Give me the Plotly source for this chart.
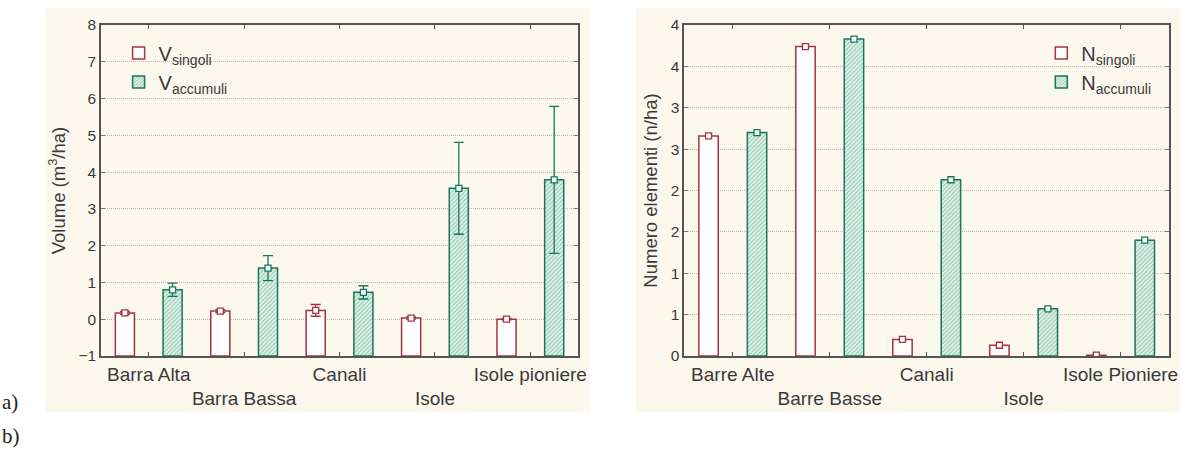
import plotly.graph_objects as go
import numpy as np

# left panel: volume
cat_a = ["Barra Alta", "Barra Bassa", "Canali", "Isole", "Isole pioniere"]
v_singoli = [0.17, 0.22, 0.24, 0.03, 0.0]
v_singoli_err = [0.04, 0.04, 0.16, 0.03, 0.02]
v_accumuli = [0.80, 1.39, 0.73, 3.56, 3.79]
v_accumuli_err = [0.18, 0.34, 0.18, 1.25, 2.0]

# right panel: numero elementi
cat_b = ["Barre Alte", "Barre Basse", "Canali", "Isole", "Isole Pioniere"]
n_singoli = [2.66, 3.74, 0.20, 0.13, 0.01]
n_accumuli = [2.70, 3.83, 2.13, 0.57, 1.40]
b_tickvals = [0, 0.5, 1, 1.5, 2, 2.5, 3, 3.5, 4]
b_ticktext = ["0", "1", "1", "2", "2", "3", "3", "4", "4"]

RED = "#A3343F"
GREEN = "#16775A"
CREAM = "#FDF8EE"
TXT = "#3A3A3A"
FONT = "Liberation Sans, Arial, sans-serif"

YMIN_A = -1
idx = np.arange(len(cat_a))
OFF = 0.25
W = 0.2

fig = go.Figure()

hatch = dict(shape="/", fgcolor="#4FA283", bgcolor="#E4F2EB", size=3, solidity=0.4)

def panel(xa, ya, s_vals, a_vals, s_err, a_err, base, leg, sname, aname):
    s_vals = np.array(s_vals)
    a_vals = np.array(a_vals)
    fig.add_trace(go.Bar(
        x=idx - OFF, y=s_vals - base, base=base, width=W,
        marker=dict(color="white", line=dict(color=RED, width=1.5)),
        name=sname, xaxis=xa, yaxis=ya, legend=leg))
    fig.add_trace(go.Bar(
        x=idx + OFF, y=a_vals - base, base=base, width=W,
        marker=dict(color="#E4F2EB", pattern=hatch, line=dict(color=GREEN, width=1.5)),
        name=aname, xaxis=xa, yaxis=ya, legend=leg))
    for xs, vals, err, col in [(idx - OFF, s_vals, s_err, RED), (idx + OFF, a_vals, a_err, GREEN)]:
        eb = dict(type="data", array=err, color=col, thickness=1.3, width=5) if err is not None else None
        fig.add_trace(go.Scatter(
            x=xs, y=vals, mode="markers", showlegend=False,
            marker=dict(symbol="square", size=6, color="white", line=dict(color=col, width=1.3)),
            error_y=eb, xaxis=xa, yaxis=ya))

panel("x", "y", v_singoli, v_accumuli, v_singoli_err, v_accumuli_err, YMIN_A, "legend",
      "V<sub>singoli</sub>", "V<sub>accumuli</sub>")
panel("x2", "y2", n_singoli, n_accumuli, None, None, 0, "legend2",
      "N<sub>singoli</sub>", "N<sub>accumuli</sub>")

def stagger(labels):
    return [t if i % 2 == 0 else "<br>" + t for i, t in enumerate(labels)]

xcommon = dict(range=[-0.5, 4.5], tickvals=list(idx), showline=True, linecolor="#555",
               linewidth=1.5, mirror="ticks", ticks="inside", ticklen=4, tickcolor="#555",
               showgrid=False, zeroline=False, tickangle=0, automargin=False,
               tickfont=dict(size=19, color=TXT, family=FONT))
ycommon = dict(showline=True, linecolor="#555", linewidth=1.5, mirror="ticks", ticks="inside",
               ticklen=4, tickcolor="#777", showgrid=True, gridcolor="#C4B6B8", griddash="1px,1px",
               gridwidth=1, zeroline=False, automargin=False,
               tickfont=dict(size=15.5, color=TXT, family=FONT),
               title_font=dict(size=18.5, color=TXT, family=FONT))

fig.update_layout(
    width=1186, height=454, margin=dict(l=0, r=0, t=0, b=0),
    paper_bgcolor="white", plot_bgcolor="white",
    font=dict(family=FONT, color=TXT),
    xaxis=dict(domain=[0.0852, 0.4874], ticktext=stagger(cat_a), **xcommon),
    yaxis=dict(domain=[0.2159, 0.9449], range=[-1, 8], dtick=1, anchor="x",
               title=dict(text="Volume (m<sup>3</sup>/ha)", standoff=8), **ycommon),
    xaxis2=dict(domain=[0.577, 0.9857], anchor="y2", ticktext=stagger(cat_b), **xcommon),
    yaxis2=dict(domain=[0.2159, 0.9449], range=[0, 4], tickvals=b_tickvals, ticktext=b_ticktext,
                anchor="x2", title=dict(text="Numero elementi (n/ha)", standoff=8), **ycommon),
    legend=dict(x=0.100, y=0.926, xanchor="left", yanchor="top", bgcolor="rgba(0,0,0,0)",
                font=dict(size=20, color=TXT, family=FONT), tracegroupgap=0),
    legend2=dict(x=0.878, y=0.926, xanchor="left", yanchor="top", bgcolor="rgba(0,0,0,0)",
                 font=dict(size=20, color=TXT, family=FONT), tracegroupgap=0),
    shapes=[
        dict(type="rect", xref="paper", yref="paper", x0=0.0379, x1=0.4975, y0=0.0925, y1=0.9824,
             fillcolor=CREAM, line_width=0, layer="below"),
        dict(type="rect", xref="paper", yref="paper", x0=0.5363, x1=0.9958, y0=0.0925, y1=0.9824,
             fillcolor=CREAM, line_width=0, layer="below"),
    ],
    annotations=[
        dict(text="a)", x=0.0, y=1 - 402 / 454, xref="paper", yref="paper", xanchor="left",
             yanchor="middle", showarrow=False, font=dict(size=21, family="Liberation Serif", color="#222")),
        dict(text="b)", x=0.0, y=1 - 436 / 454, xref="paper", yref="paper", xanchor="left",
             yanchor="middle", showarrow=False, font=dict(size=21, family="Liberation Serif", color="#222")),
    ],
)

fig.write_html("out.html", post_script="document.body.style.margin='0';",
               config={"displayModeBar": False})
